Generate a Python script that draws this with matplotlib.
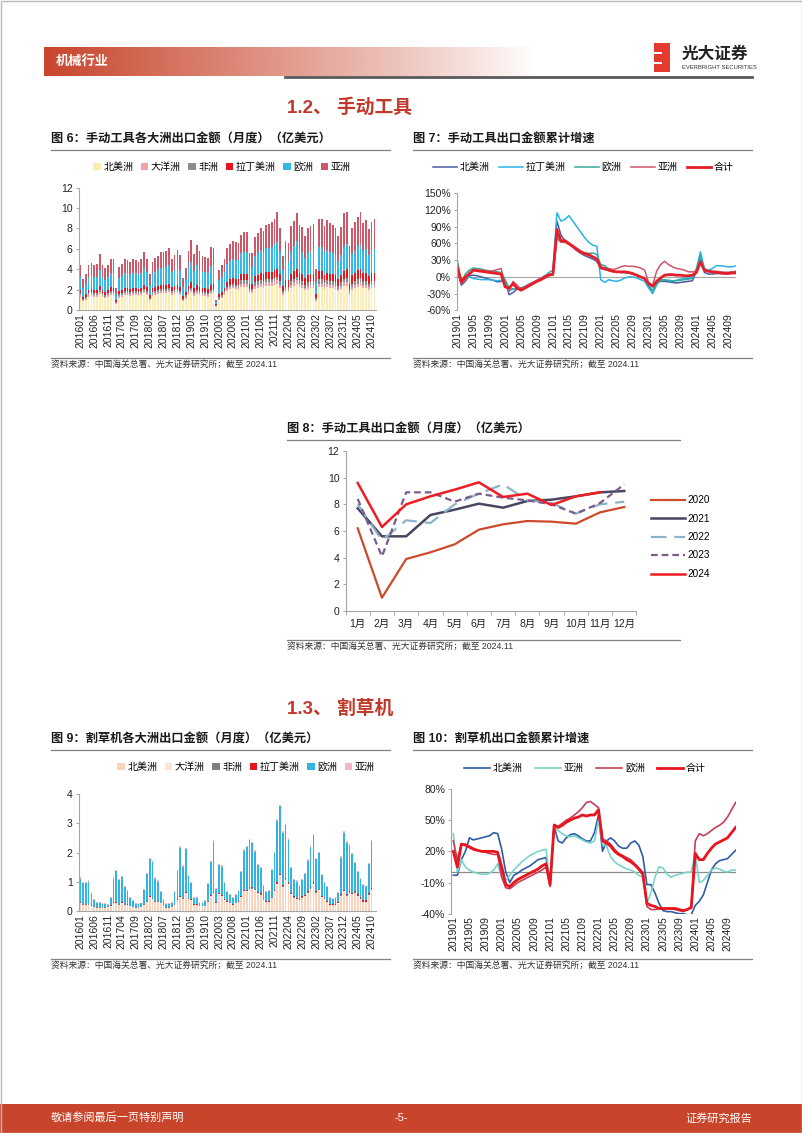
import numpy as np
import matplotlib
matplotlib.use('Agg')
import matplotlib.pyplot as plt
from matplotlib.patches import Rectangle

plt.rcParams['font.family'] = ['Liberation Sans', 'Noto Sans CJK SC']
plt.rcParams['axes.unicode_minus'] = False

# ---------------- data ----------------
# fig 6: hand tools exports by continent, monthly 201601-202411 (100m USD)
ht_na = [1.3, 0.9, 1.0, 1.3, 1.4, 1.3, 1.3, 1.6, 1.3, 1.2, 1.3, 1.5,
         1.5, 0.6, 1.2, 1.3, 1.5, 1.5, 1.4, 1.5, 1.5, 1.4, 1.5, 1.7,
         1.5, 1.0, 1.4, 1.5, 1.6, 1.7, 1.7, 1.7, 1.8, 1.5, 1.6, 1.7,
         1.5, 0.9, 1.1, 1.6, 1.8, 1.4, 1.6, 1.5, 1.4, 1.4, 1.3, 1.6,
         1.7, 0.3, 1.0, 1.2, 1.5, 1.9, 2.1, 2.2, 2.1, 2.0, 2.3, 2.3,
         2.3, 1.7, 1.7, 2.1, 2.2, 2.3, 2.2, 2.4, 2.4, 2.4, 2.5, 2.6,
         2.2, 1.5, 1.8, 1.8, 2.2, 2.4, 2.6, 2.3, 2.2, 2.0, 2.1, 2.2,
         2.2, 0.9, 2.3, 2.3, 2.1, 2.3, 2.2, 2.2, 2.1, 1.9, 2.1, 2.4,
         2.4, 1.5, 2.0, 2.2, 2.3, 2.4, 2.2, 2.2, 2.0, 2.2, 2.2]
ht_oc = [.2, .1, .1, .2, .2, .2, .2, .2, .2, .1, .2, .2,
         .2, .1, .2, .2, .2, .2, .2, .2, .2, .2, .2, .2,
         .2, .1, .2, .2, .2, .2, .2, .2, .2, .2, .2, .2,
         .2, .1, .2, .2, .2, .2, .2, .2, .2, .2, .2, .2,
         .2, .05, .1, .1, .2, .2, .2, .2, .2, .2, .3, .3,
         .3, .2, .2, .3, .3, .3, .3, .3, .3, .3, .3, .3,
         .3, .2, .2, .2, .3, .3, .3, .3, .3, .2, .3, .3,
         .3, .1, .3, .3, .3, .3, .3, .3, .3, .2, .3, .3,
         .3, .2, .3, .3, .3, .3, .3, .3, .3, .3, .3]
ht_af = [.2, .1, .2, .2, .2, .2, .2, .2, .2, .2, .2, .2,
         .2, .1, .2, .2, .2, .2, .2, .2, .2, .2, .2, .2,
         .2, .1, .2, .2, .2, .2, .2, .2, .2, .2, .2, .2,
         .2, .1, .2, .2, .2, .2, .2, .2, .2, .2, .2, .2,
         .2, .1, .2, .2, .2, .2, .2, .2, .2, .3, .3, .3,
         .3, .2, .2, .3, .3, .3, .3, .3, .3, .3, .3, .3,
         .3, .2, .3, .3, .3, .3, .3, .3, .3, .3, .3, .3,
         .3, .2, .4, .4, .3, .3, .3, .3, .3, .3, .3, .3,
         .4, .3, .3, .3, .4, .4, .3, .3, .3, .3, .3]
ht_la = [.3, .2, .3, .3, .3, .3, .3, .4, .3, .3, .3, .4,
         .3, .2, .3, .3, .3, .3, .3, .3, .3, .3, .3, .4,
         .4, .3, .4, .4, .4, .4, .4, .4, .4, .4, .4, .4,
         .4, .3, .3, .4, .5, .4, .5, .4, .4, .4, .4, .5,
         .5, .1, .3, .3, .3, .4, .5, .5, .5, .5, .6, .6,
         .6, .5, .5, .6, .6, .7, .7, .7, .7, .7, .8, .8,
         .7, .5, .6, .6, .7, .8, .8, .7, .7, .6, .7, .7,
         .7, .4, .8, .8, .7, .7, .7, .7, .7, .6, .7, .8,
         .9, .6, .8, .8, .9, .9, .8, .8, .7, .8, .8]
ht_eu = [1.2, 0.9, 1.0, 1.2, 1.3, 1.2, 1.2, 1.5, 1.2, 1.1, 1.2, 1.3,
         1.4, 0.6, 1.2, 1.3, 1.4, 1.4, 1.3, 1.4, 1.4, 1.3, 1.4, 1.6,
         1.4, 1.0, 1.3, 1.4, 1.5, 1.6, 1.6, 1.7, 1.8, 1.4, 1.5, 1.7,
         1.6, 0.9, 1.2, 1.7, 2.0, 1.6, 1.9, 1.7, 1.5, 1.5, 1.5, 1.8,
         1.8, 0.25, 1.3, 1.4, 1.5, 1.8, 1.8, 1.9, 1.9, 1.9, 2.1, 2.2,
         2.2, 1.6, 1.6, 2.0, 2.2, 2.3, 2.2, 2.4, 2.4, 2.5, 2.6, 2.7,
         2.3, 1.5, 1.9, 1.8, 2.3, 2.5, 2.8, 2.3, 2.2, 2.0, 2.2, 2.3,
         2.3, 1.1, 2.4, 2.4, 2.2, 2.3, 2.2, 2.1, 2.0, 1.8, 2.0, 2.4,
         2.5, 1.6, 2.1, 2.2, 2.4, 2.5, 2.3, 2.4, 2.1, 2.3, 2.4]
ht_as = [1.2, 0.8, 0.9, 1.2, 1.2, 1.2, 1.3, 1.6, 1.2, 1.2, 1.2, 1.4,
         1.4, 0.6, 1.1, 1.2, 1.4, 1.3, 1.3, 1.4, 1.3, 1.3, 1.4, 1.6,
         1.3, 1.0, 1.2, 1.4, 1.4, 1.6, 1.6, 1.6, 1.7, 1.3, 1.5, 1.7,
         1.5, 0.8, 1.1, 1.7, 2.2, 1.7, 2.0, 1.8, 1.6, 1.5, 1.5, 1.9,
         1.7, 0.2, 1.0, 1.2, 1.3, 1.6, 1.7, 1.8, 1.8, 1.7, 1.8, 2.0,
         2.0, 1.4, 1.4, 1.9, 2.0, 2.1, 2.1, 2.2, 2.3, 2.4, 2.4, 2.9,
         2.2, 1.4, 2.0, 1.9, 2.4, 2.4, 2.7, 2.4, 2.4, 2.2, 2.4, 2.4,
         2.6, 1.3, 2.7, 2.7, 2.6, 2.9, 2.8, 2.7, 2.6, 2.5, 2.7, 3.3,
         3.1, 2.1, 2.5, 2.8, 2.8, 3.1, 2.6, 2.8, 2.5, 2.7, 2.9]

# fig 7: hand tools cumulative yoy growth (%), 201901-202411
t7_na = [15, -15, -8, 2, 3, 2, 0, -2, -4, -6, -9, -8,
         -8, -32, -28, -22, -20, -17, -13, -10, -7, -4, -1, 3,
         5, 100, 75, 65, 60, 53, 47, 42, 38, 35, 32, 28,
         15, 13, 12, 10, 9, 8, 8, 7, 5, 3, 0, -3,
         -18, -25, -10, -8, -8, -9, -10, -11, -10, -9, -8, -7,
         10, 30, 8, 5, 5, 6, 6, 7, 7, 8, 8]
t7_la = [18, -10, -3, 0, -3, -4, -5, -5, -5, -6, -7, -6,
         -10, -25, -22, -20, -22, -18, -15, -11, -7, -3, 2, 8,
         12, 115, 100, 103, 110, 100, 90, 80, 70, 62, 57, 55,
         -5, -10, -5, -7, -8, -6, -2, 0, 0, -2, -5, -8,
         -20, -30, -15, -5, -5, -7, -8, -6, -4, -3, -2, 0,
         15, 45, 15, 12, 15, 20, 20, 19, 18, 18, 20]
t7_eu = [30, -10, 5, 12, 16, 15, 14, 12, 11, 10, 9, 8,
         -5, -20, -22, -20, -22, -18, -14, -10, -6, -2, 2, 5,
         3, 75, 65, 62, 60, 55, 48, 45, 43, 42, 43, 40,
         22, 20, 14, 10, 9, 8, 8, 7, 5, 3, 0, -3,
         -15, -25, -12, -5, -6, -6, -7, -7, -6, -5, -4, -3,
         12, 38, 12, 10, 9, 9, 8, 8, 8, 9, 10]
t7_as = [10, -12, -5, 8, 12, 12, 12, 11, 10, 11, 13, 15,
         -15, -25, -8, -15, -22, -18, -14, -10, -6, -2, 2, 5,
         3, 70, 62, 62, 58, 53, 47, 43, 40, 38, 35, 32,
         15, 14, 15, 13, 15, 18, 20, 19, 19, 18, 16, 12,
         -10, -15, 10, 22, 28, 22, 18, 15, 14, 12, 9, 9,
         10, 25, 12, 10, 10, 10, 9, 8, 8, 9, 10]
t7_tot = [18, -9, 0, 5, 12, 11, 10, 9, 8, 7, 6, 5,
          -18, -20, -12, -20, -24, -20, -16, -12, -8, -5, -1, 3,
          5, 85, 65, 65, 60, 55, 50, 45, 42, 40, 36, 32,
          17, 15, 12, 10, 9, 9, 9, 8, 6, 3, 0, -3,
          -12, -17, -8, -2, 3, 4, 4, 3, 3, 2, 2, 3,
          8, 27, 12, 10, 9, 8, 7, 6, 6, 7, 7]

# fig 8: hand tools monthly exports by year (100m USD)
months_cn = ['1月', '2月', '3月', '4月', '5月', '6月', '7月', '8月', '9月', '10月', '11月', '12月']
y2020 = [6.2, 1.0, 3.9, 4.4, 5.0, 6.1, 6.5, 6.75, 6.7, 6.55, 7.4, 7.8]
y2021 = [7.7, 5.6, 5.6, 7.2, 7.6, 8.05, 7.75, 8.25, 8.35, 8.6, 8.9, 9.0]
y2022 = [8.0, 5.3, 6.8, 6.6, 8.0, 8.8, 9.5, 8.3, 8.1, 7.3, 8.0, 8.2]
y2023 = [8.4, 4.1, 8.9, 8.9, 8.2, 8.8, 8.5, 8.3, 8.0, 7.3, 8.1, 9.5]
y2024 = [9.6, 6.3, 8.0, 8.6, 9.1, 9.65, 8.55, 8.8, 7.95, 8.6, 8.9]

# fig 9: lawn mower exports by continent, monthly 201601-202410 (100m USD)
mw_na = [.25, .2, .2, .2, .15, .12, .1, .1, .1, .1, .1, .15,
         .25, .25, .2, .25, .2, .2, .15, .12, .1, .1, .1, .2,
         .3, .45, .4, .3, .3, .25, .15, .1, .1, .12, .2, .35,
         .45, .4, .6, .4, .35, .2, .2, .15, .15, .15, .3, .5,
         .6, .25, .55, .5, .35, .3, .25, .2, .25, .3, .45, .65,
         .65, .75, .75, .7, .6, .55, .35, .3, .3, .45, .65, .9,
         1.2, .8, 1.05, .9, .55, .45, .4, .35, .45, .5, .6, .75,
         .9, .6, .7, .45, .4, .3, .2, .2, .2, .25, .5, .65,
         .5, .6, .55, .6, .5, .4, .3, .3, .55, .7]
mw_oc = [.02, .02, .02, .02, .02, .01, .01, .01, .01, .01, .02, .02,
         .02, .02, .02, .02, .02, .01, .01, .01, .01, .01, .02, .02,
         .02, .02, .02, .02, .02, .01, .01, .01, .01, .01, .02, .02,
         .02, .02, .02, .02, .02, .01, .01, .01, .01, .01, .02, .02,
         .02, .02, .02, .02, .02, .01, .01, .01, .01, .01, .02, .02,
         .02, .02, .02, .02, .02, .01, .01, .01, .01, .01, .02, .02,
         .02, .02, .02, .02, .02, .01, .01, .01, .01, .01, .02, .02,
         .02, .02, .02, .02, .02, .01, .01, .01, .01, .01, .02, .02,
         .02, .02, .02, .02, .02, .01, .01, .01, .01, .02]
mw_af = [.01, .01, .01, .01, .01, .01, .01, .01, .01, .01, .01, .01,
         .01, .01, .01, .01, .01, .01, .01, .01, .01, .01, .01, .01,
         .01, .01, .01, .01, .01, .01, .01, .01, .01, .01, .01, .01,
         .01, .01, .01, .01, .01, .01, .01, .01, .01, .01, .01, .01,
         .01, .01, .01, .01, .01, .01, .01, .01, .01, .01, .01, .01,
         .02, .02, .02, .02, .01, .01, .01, .01, .01, .01, .02, .02,
         .02, .02, .02, .02, .01, .01, .01, .01, .01, .01, .02, .02,
         .02, .02, .02, .01, .01, .01, .01, .01, .01, .01, .02, .02,
         .02, .02, .02, .02, .01, .01, .01, .01, .01, .02]
mw_la = [.02, .02, .02, .02, .01, .01, .01, .01, .01, .01, .01, .02,
         .02, .02, .02, .02, .02, .01, .01, .01, .01, .01, .02, .02,
         .02, .03, .03, .02, .02, .02, .01, .01, .01, .01, .02, .02,
         .03, .03, .03, .02, .02, .02, .02, .01, .01, .01, .02, .03,
         .03, .02, .03, .03, .02, .02, .02, .02, .02, .02, .03, .03,
         .03, .03, .03, .03, .03, .03, .02, .02, .02, .02, .03, .04,
         .04, .04, .04, .04, .03, .03, .03, .03, .03, .03, .03, .04,
         .04, .03, .03, .03, .03, .03, .03, .03, .03, .03, .03, .04,
         .04, .04, .04, .04, .04, .05, .06, .06, .04, .04]
mw_eu = [.81, .71, .71, .76, .41, .24, .16, .16, .11, .11, .06, .26,
         .81, 1.06, .81, .86, .56, .46, .26, .19, .11, .11, .11, .46,
         .91, 1.26, 1.21, .76, .66, .36, .21, .11, .11, .14, .41, .96,
         1.66, 1.06, 1.46, .76, .56, .21, .21, .11, .11, .16, .56, 1.11,
         1.71, .46, .96, .96, .56, .31, .26, .21, .26, .36, .81, 1.36,
         1.46, 1.61, 1.51, 1.26, .91, .86, .46, .31, .36, .91, 1.26, 2.11,
         2.31, 1.81, 1.81, 1.46, .86, .56, .56, .46, .56, .71, 1.06, 1.36,
         1.61, 1.11, 1.21, .71, .51, .46, .21, .16, .21, .31, 1.26, 1.96,
         1.76, 1.56, 1.31, .96, .76, .61, .51, .46, 1.01, 1.61]
mw_as = [.04, .04, .04, .04, .03, .03, .03, .03, .03, .03, .03, .03,
         .04, .04, .04, .04, .03, .03, .03, .03, .03, .03, .03, .04,
         .04, .05, .05, .04, .04, .03, .03, .03, .03, .03, .04, .04,
         .05, .04, .05, .04, .04, .03, .03, .03, .03, .03, .04, .05,
         .05, .03, .04, .04, .04, .03, .03, .03, .03, .03, .04, .05,
         .05, .05, .05, .05, .04, .04, .03, .03, .03, .04, .05, .06,
         .06, .05, .05, .05, .04, .04, .04, .03, .04, .04, .05, .05,
         .05, .05, .05, .04, .04, .04, .03, .03, .03, .03, .05, .06,
         .05, .05, .05, .04, .04, .04, .03, .03, .04, .05]

# fig 10: lawn mower cumulative yoy growth (%), 201901-202411
t10_na = [-3, -3, 12, 20, 33, 31, 32, 33, 34, 35, 38, 37,
          22, 0, -10, -3, -1, 2, 4, 6, 9, 12, 13, 14,
          -10, 44, 30, 28, 33, 36, 37, 35, 32, 30, 30, 38,
          55, 20, 30, 33, 30, 25, 23, 23, 28, 30, 26, 15,
          -12, -12, -20, -30, -37, -38, -38, -39, -40, -40, -41, -41,
          -32, -28, -22, -10, 2, 8, 11, 12, 13, 17, 21]
t10_as = [37, 0, 12, 5, 2, 0, -1, -2, -2, -1, 2, 8,
          -5, -8, -3, 2, 6, 10, 13, 16, 18, 20, 21, 22,
          -12, 44, 40, 37, 35, 34, 35, 33, 31, 29, 28, 30,
          50, 27, 25, 15, 10, 7, 5, 3, 2, 0, -3, -5,
          -30, -20, -5, 5, 4, -2, -5, -3, -2, -1, 0, 0,
          18, -10, -8, -3, 2, 4, 3, 1, 0, 2, 2]
t10_eu = [30, 12, 27, 27, 25, 23, 21, 20, 19, 18, 17, 17,
          -5, -15, -16, -13, -10, -8, -6, -4, -2, 0, 2, 5,
          -14, 46, 44, 47, 50, 52, 55, 58, 62, 67, 68, 65,
          62, 32, 30, 27, 22, 18, 16, 14, 12, 8, 4, 0,
          -33, -36, -36, -35, -35, -35, -35, -36, -37, -38, -36, -34,
          30, 37, 35, 37, 40, 43, 45, 48, 53, 60, 67]
t10_tot = [20, 5, 27, 26, 24, 22, 21, 20, 20, 20, 20, 19,
           5, -12, -14, -10, -7, -5, -3, -1, 1, 3, 6, 8,
           -12, 45, 43, 45, 48, 50, 52, 53, 55, 54, 55, 55,
           60, 30, 28, 25, 20, 17, 15, 12, 10, 7, 3, -2,
           -30, -32, -33, -35, -35, -35, -35, -35, -36, -37, -36, -34,
           18, 12, 12, 18, 23, 27, 29, 31, 33, 38, 43]

months16 = [f'{y}{m:02d}' for y in range(2016, 2025) for m in range(1, 13)]
months19 = [f'{y}{m:02d}' for y in range(2019, 2025) for m in range(1, 13)]
SOURCE = '资料来源：中国海关总署、光大证券研究所；截至 2024.11'
RED = '#C8452C'

# ---------------- page ----------------
W, H = 802, 1133
fig = plt.figure(figsize=(W / 100, H / 100), dpi=100)
bg = fig.add_axes([0, 0, 1, 1])
bg.set_xlim(0, W)
bg.set_ylim(H, 0)
bg.axis('off')


def box(x0, y0, x1, y1):
    return [x0 / W, 1 - y1 / H, (x1 - x0) / W, (y1 - y0) / H]


def style(ax):
    for s in ['top', 'right']:
        ax.spines[s].set_visible(False)
    for s in ['left', 'bottom']:
        ax.spines[s].set_color('#A6A6A6')
        ax.spines[s].set_linewidth(0.8)
    ax.tick_params(axis='y', labelsize=7.5, length=2.5, width=0.7, color='#A6A6A6',
                   labelcolor='#222222', pad=2)
    ax.tick_params(axis='x', labelsize=7.5, length=0, labelcolor='#222222', pad=2)
    ax.patch.set_alpha(0)


def panel_title(x0, x1, y, text):
    bg.text(x0, y, text, fontsize=8.8, fontweight='bold', va='center', ha='left', color='#1A1A1A')
    bg.plot([x0, x1], [y + 10.5] * 2, color='#808080', lw=0.9)


def source(x0, x1, y):
    bg.plot([x0, x1], [y - 6] * 2, color='#808080', lw=0.9)
    bg.text(x0, y, SOURCE, fontsize=6.3, va='center', ha='left', color='#333333')


# header
grad = np.ones((1, 300, 4))
grad[..., :3] = matplotlib.colors.to_rgb(RED)
grad[..., 3] = np.linspace(1, 0, 300) ** 0.9
bg.imshow(grad, extent=(44, 535, 76, 47), aspect='auto', interpolation='bilinear')
bg.text(56, 61.5, '机械行业', fontsize=9.5, fontweight='bold', color='white', va='center')
bg.plot([285, 752], [76.5, 76.5], color='#595959', lw=2)
bg.add_patch(Rectangle((654, 43), 16, 29, facecolor='#E53A2F', edgecolor='none'))
bg.add_patch(Rectangle((654, 51.5), 8, 2, facecolor='white', edgecolor='none'))
bg.add_patch(Rectangle((654, 61.5), 8, 2, facecolor='white', edgecolor='none'))
bg.text(682, 54, '光大证券', fontsize=12, fontweight='bold', color='#222222', va='center')
bg.text(682, 67.5, 'EVERBRIGHT SECURITIES', fontsize=4.2, color='#333333', va='center')

# section headings
bg.text(287, 107, '1.2、 手动工具', fontsize=13.5, fontweight='bold', color='#C0392B', va='center', ha='left')
bg.text(287, 709, '1.3、 割草机', fontsize=13.5, fontweight='bold', color='#C0392B', va='center', ha='left')

# footer
bg.add_patch(Rectangle((0, 1104), W, 29, facecolor=RED, edgecolor='none'))
bg.text(51, 1118, '敬请参阅最后一页特别声明', fontsize=8, color='white', va='center')
bg.text(401, 1118, '-5-', fontsize=8, color='white', va='center', ha='center')
bg.text(752, 1118, '证券研究报告', fontsize=8, color='white', va='center', ha='right')
bg.add_patch(Rectangle((0.5, 0.5), W - 1, H - 1, facecolor='none', edgecolor='#BBBBBB', lw=1))


def stacked(ax, series, colors, labels):
    x = np.arange(len(series[0]))
    bottom = np.zeros(len(x))
    for vals, c, lab in zip(series, colors, labels):
        v = np.array(vals, dtype=float)
        ax.bar(x, v, 0.62, bottom=bottom, color=c, label=lab, linewidth=0)
        bottom += v


# ---- fig 6 ----
panel_title(51, 390, 139, '图 6：手动工具各大洲出口金额（月度）（亿美元）')
ax6 = fig.add_axes(box(78.9, 187.7, 375.8, 310))
cont_labels = ['北美洲', '大洋洲', '非洲', '拉丁美洲', '欧洲', '亚洲']
stacked(ax6, [ht_na, ht_oc, ht_af, ht_la, ht_eu, ht_as],
        ['#FDEBB3', '#F2A2A8', '#8C8C8C', '#E8141E', '#33B8E8', '#CF5868'], cont_labels)
ax6.set_xlim(-0.5, 106.5)
ax6.set_ylim(0, 12)
ax6.set_yticks(range(0, 13, 2))
ax6.set_xticks(range(0, 107, 5))
ax6.set_xticklabels(months16[0:107:5], rotation=90)
style(ax6)
ax6.legend(ncol=6, loc='center', bbox_to_anchor=(222 / W, 1 - 167 / H), bbox_transform=fig.transFigure,
           frameon=False, fontsize=7.2, handlelength=0.75, handleheight=0.75, handletextpad=0.3,
           columnspacing=0.7, borderpad=0, borderaxespad=0)
source(51, 390, 364)

# ---- fig 7 ----
panel_title(413, 752, 139, '图 7：手动工具出口金额累计增速')
ax7 = fig.add_axes(box(457.3, 193.3, 736.3, 310.3))
x7 = np.arange(len(t7_tot))
ax7.axhline(0, color='#A6A6A6', lw=0.8)
ax7.plot(x7, t7_na, color='#4C5AA6', lw=1.1, label='北美洲')
ax7.plot(x7, t7_la, color='#2BB3E5', lw=1.1, label='拉丁美洲')
ax7.plot(x7, t7_eu, color='#35A99B', lw=1.1, label='欧洲')
ax7.plot(x7, t7_as, color='#D0556A', lw=1.1, label='亚洲')
ax7.plot(x7, t7_tot, color='#E61E28', lw=2.0, label='合计')
ax7.set_xlim(0, 70)
ax7.set_ylim(-60, 150)
yt7 = list(range(-60, 151, 30))
ax7.set_yticks(yt7)
ax7.set_yticklabels([f'{t}%' for t in yt7])
ax7.set_xticks(range(0, 71, 4))
ax7.set_xticklabels(months19[0:71:4], rotation=90)
style(ax7)
ax7.spines['bottom'].set_visible(False)
ax7.legend(ncol=5, loc='center', bbox_to_anchor=(583 / W, 1 - 167 / H), bbox_transform=fig.transFigure,
           frameon=False, fontsize=7.2, handlelength=2.4, handletextpad=0.3,
           columnspacing=0.9, borderpad=0, borderaxespad=0)
source(413, 752, 364)

# ---- fig 8 ----
panel_title(287, 680, 429, '图 8：手动工具出口金额（月度）（亿美元）')
ax8 = fig.add_axes(box(345.6, 451, 636.4, 611))
ax8.plot(range(12), y2020, color='#CB4B2B', lw=1.6, label='2020')
ax8.plot(range(12), y2021, color='#474761', lw=1.8, label='2021')
ax8.plot(range(12), y2022, color='#8DB3C8', lw=1.6, dashes=(7, 3.5), label='2022')
ax8.plot(range(12), y2023, color='#7B5C8C', lw=1.6, dashes=(3, 1.8), label='2023')
ax8.plot(range(len(y2024)), y2024, color='#F01C24', lw=1.8, label='2024')
ax8.set_xlim(-0.5, 11.5)
ax8.set_ylim(0, 12)
ax8.set_yticks(range(0, 13, 2))
ax8.set_xticks(range(12))
ax8.set_xticklabels(months_cn)
ax8.set_xticks(np.arange(-0.5, 12, 1), minor=True)
style(ax8)
ax8.tick_params(axis='x', which='minor', length=3, width=0.7, color='#A6A6A6')
ax8.tick_params(axis='x', which='major', pad=6)
ax8.legend(loc='upper left', bbox_to_anchor=(651 / W, 1 - 495 / H), bbox_transform=fig.transFigure,
           frameon=False, fontsize=7.2, handlelength=3.4, handletextpad=0.2,
           labelspacing=0.85, borderpad=0, borderaxespad=0)
source(287, 680, 646)

# ---- fig 9 ----
panel_title(51, 390, 739, '图 9：割草机各大洲出口金额（月度）（亿美元）')
ax9 = fig.add_axes(box(78.9, 794.3, 375.8, 911))
stacked(ax9, [mw_na, mw_oc, mw_af, mw_la, mw_eu, mw_as],
        ['#F9D3BC', '#FCE4D4', '#7F7F7F', '#E8141E', '#31B4E2', '#F3B3C3'], cont_labels)
ax9.set_xlim(-0.5, 106.5)
ax9.set_ylim(0, 4)
ax9.set_yticks(range(0, 5))
ax9.set_xticks(range(0, 107, 5))
ax9.set_xticklabels(months16[0:107:5], rotation=90)
style(ax9)
ax9.legend(ncol=6, loc='center', bbox_to_anchor=(246 / W, 1 - 767 / H), bbox_transform=fig.transFigure,
           frameon=False, fontsize=7.2, handlelength=0.75, handleheight=0.75, handletextpad=0.3,
           columnspacing=0.7, borderpad=0, borderaxespad=0)
source(51, 390, 965)

# ---- fig 10 ----
panel_title(413, 752, 739, '图 10：割草机出口金额累计增速')
ax10 = fig.add_axes(box(451.3, 789, 736.4, 913.7))
x10 = np.arange(len(t10_tot))
ax10.axhline(0, color='#8C8C8C', lw=0.9)
ax10.plot(x10, t10_na, color='#2E5DA8', lw=1.2, label='北美洲')
ax10.plot(x10, t10_as, color='#79D4C9', lw=1.2, label='亚洲')
ax10.plot(x10, t10_eu, color='#C83E58', lw=1.2, label='欧洲')
ax10.plot(x10, t10_tot, color='#E8141E', lw=2.0, label='合计')
ax10.set_xlim(-0.5, 70.2)
ax10.set_ylim(-40, 80)
yt10 = [-40, -10, 20, 50, 80]
ax10.set_yticks(yt10)
ax10.set_yticklabels([f'{t}%' for t in yt10])
ax10.set_xticks(range(0, 71, 4))
ax10.set_xticklabels(months19[0:71:4], rotation=90)
style(ax10)
ax10.spines['bottom'].set_visible(False)
ax10.legend(ncol=4, loc='center', bbox_to_anchor=(585 / W, 1 - 768 / H), bbox_transform=fig.transFigure,
            frameon=False, fontsize=7.2, handlelength=2.6, handletextpad=0.3,
            columnspacing=1.2, borderpad=0, borderaxespad=0)
source(413, 752, 965)

fig.savefig('out.png', dpi=100, facecolor='white')
